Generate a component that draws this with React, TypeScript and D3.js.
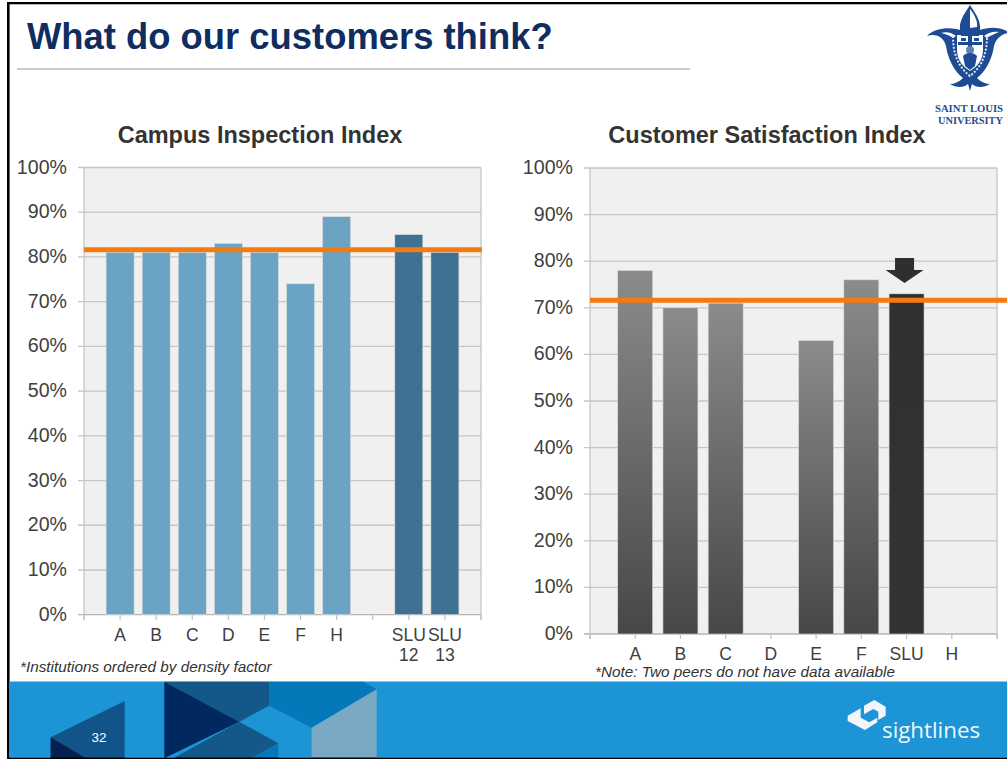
import React from "react";
import * as d3 from "d3";

const leftCategories = ["", "A", "B", "C", "D", "E", "F", "H", " ", "SLU 12", "SLU 13", "  "];
const leftValues = [null, 81, 81, 81, 83, 81, 74, 89, null, 85, 81, null];
const leftAverage = 81.6;
const rightCategories = ["", "A", "B", "C", "D", "E", "F", "SLU", "H", " "];
const rightValues = [null, 78, 70, 71, null, 63, 76, 73, null, null];
const rightAverage = 71.6;
const yTicks = [0, 10, 20, 30, 40, 50, 60, 70, 80, 90, 100];

const SANS = "'Liberation Sans', Arial, sans-serif";

type PanelProps = {
  title: string; titleX: number; cats: string[]; vals: (number | null)[]; avg: number;
  x0: number; x1: number; yTop: number; yBot: number; barW: number; labelX: number;
  fillFor: (c: string) => string; arrowAt?: string; lineX1: number;
};

function Panel({ title, titleX, cats, vals, avg, x0, x1, yTop, yBot, barW, labelX, fillFor, arrowAt, lineX1 }: PanelProps) {
  const x = d3.scalePoint<string>().domain(cats).range([x0, x1]);
  const y = d3.scaleLinear().domain([0, 100]).range([yBot, yTop]);
  return (
    <g fontFamily={SANS}>
      <text x={titleX} y={143} textAnchor="middle" fontSize={23.5} fontWeight={700} fill="#333">{title}</text>
      <rect x={x0} y={yTop} width={x1 - x0} height={yBot - yTop} fill="#f0f0f0" />
      {yTicks.map((t) => (
        <line key={t} x1={x0 - 6} x2={x1} y1={y(t)} y2={y(t)} stroke={t === 0 ? "#b4b4b4" : "#c6c6c6"} strokeWidth={1.3} />
      ))}
      <line x1={x0} x2={x0} y1={yTop} y2={yBot + 5} stroke="#c6c6c6" strokeWidth={1.3} />
      <line x1={x1} x2={x1} y1={yTop} y2={yBot + 5} stroke="#c6c6c6" strokeWidth={1.3} />
      {cats.map((c) => (
        <line key={"t" + c} x1={x(c)} x2={x(c)} y1={yBot} y2={yBot + 5} stroke="#c0c0c0" strokeWidth={1.2} />
      ))}
      {cats.map((c, i) => {
        const v = vals[i];
        if (v == null) return null;
        return (
          <rect key={"b" + c} x={x(c)! - barW / 2} y={y(v)} width={barW} height={yBot - y(v)} fill={fillFor(c)} stroke="#dcdcdc" strokeWidth={0.6} />
        );
      })}
      <line x1={x0} x2={lineX1} y1={y(avg)} y2={y(avg)} stroke="#f47b12" strokeWidth={5} />
      {yTicks.map((t) => (
        <text key={"l" + t} x={labelX} y={y(t) + 6} textAnchor="end" fontSize={19.6} fill="#404040">{t}%</text>
      ))}
      {cats.filter((c) => c.trim()).map((c) => {
        const lines = c.split(" ");
        return (
          <text key={"c" + c} x={x(c)} y={yBot + 26} textAnchor="middle" fontSize={17.5} fill="#404040">
            {lines.map((s, k) => <tspan key={k} x={x(c)} dy={k ? 20 : 0}>{s}</tspan>)}
          </text>
        );
      })}
      {arrowAt && (() => {
        const cx = x(arrowAt)! - 2;
        return <path d={`M${cx - 9.5},258H${cx + 9.5}V270H${cx + 19}L${cx},283L${cx - 19},270H${cx - 9.5}Z`} fill="#2f2f2f" />;
      })()}
    </g>
  );
}

function Logo() {
  const navy = "#1d4b94";
  const serif = { fontFamily: "'Liberation Serif', serif", fontWeight: 700, fontSize: 11, fill: navy } as const;
  return (
    <g>
      <path fill={navy} d="M970,5 C975,13 981,20 980,30 C988,27 1000,26 1010,33 C1003,33 996,38 994,46 C992,60 985,72 977,78 C981,82 986,84 990,84 C984,88 976,88 972,84 L970,91 L968,84 C964,88 956,88 950,84 C954,84 959,82 963,78 C955,72 948,60 946,46 C944,38 937,33 927,36 C935,27 952,27 960,30 C959,20 965,13 970,5 Z" />
      <path fill="#fff" d="M970,9 C974,14 978,21 977,27 L970,28 Z" />
      <path fill="#fff" d="M941,33 C947,31 952,33 956,36 L953,38 C949,35 945,34 941,33 Z M999,32 C993,31 988,33 984,36 L987,38 C991,35 995,34 999,32 Z" />
      <path fill="none" stroke="#dfe8f4" strokeWidth={2} strokeDasharray="2 1.6" d="M953,36 C953,52 957,66 970,76 C983,66 987,52 987,36" />
      <path fill="#fff" d="M957,35 H983 V50 C983,60 977,67 970,71 C963,67 957,60 957,50 Z" />
      <path fill={navy} d="M960,30 L963,33 L967,30 L970,33 L973,30 L977,33 L980,30 L979,36 H961 Z" />
      <path fill={navy} d="M968,36 H972 V42 H982 V45 H972 V52 H968 V45 H958 V42 H968 Z" />
      <path fill={navy} d="M961,38 h5 v3 h-5 Z M974,38 h5 v3 h-5 Z" />
      <circle cx={970} cy={50} r={4} fill="#5f7fb5" />
      <path fill={navy} d="M963,56 C966,52 974,52 977,56 L975,66 L970,70 L965,66 Z" />
      <text x={935} y={112} textLength={68} lengthAdjust="spacingAndGlyphs" {...serif}>SAINT LOUIS</text>
      <text x={938} y={124} textLength={65} lengthAdjust="spacingAndGlyphs" {...serif}>UNIVERSITY</text>
    </g>
  );
}

function Footer() {
  const pts = (a: number[][]) => a.map(([px, py]) => `${px / 3},${py / 3 + 590}`).join(" ");
  const ico = (a: number[][]) => a.map(([px, py]) => `${840 + px / 3},${695 + py / 3}`).join(" ");
  return (
    <g>
      <rect x={9} y={681.5} width={998} height={76} fill="#1c94d6" />
      <polygon points={pts([[152, 442], [374, 333], [374, 505], [152, 505]])} fill="#11548a" />
      <polygon points={pts([[152, 442], [258, 505], [152, 505]])} fill="#06204f" />
      <polygon points={pts([[493, 275], [808, 275], [808, 347], [718, 395]])} fill="#14588a" />
      <polygon points={pts([[493, 275], [718, 395], [493, 505]])} fill="#02295f" />
      <polygon points={pts([[808, 275], [1090, 275], [1130, 298], [935, 413], [808, 347]])} fill="#0478b8" />
      <polygon points={pts([[1130, 298], [935, 413], [935, 505], [1130, 505]])} fill="#7aa9c4" />
      <polygon points={pts([[718, 395], [835, 460], [755, 505], [520, 505]])} fill="#14588a" />
      <polygon points={pts([[835, 460], [835, 505], [755, 505]])} fill="#0478b8" />
      <text x={99} y={742} textAnchor="middle" fontFamily={SANS} fontSize={13.5} fill="#fff">32</text>
      <g fill="#f1f6fa">
        <polygon points={ico([[72, 32], [103, 15], [137, 35], [137, 62], [115, 75], [115, 50], [100, 42], [72, 58]])} />
        <polygon points={ico([[23, 62], [62, 40], [62, 68], [88, 82], [112, 68], [112, 82], [75, 105], [23, 78]])} />
      </g>
      <text x={882} y={738} fontFamily="'Open Sans', sans-serif" fontSize={22.3} fill="#f1f6fa">sightlines</text>
    </g>
  );
}

export default function App() {
  return (
    <svg width={1007} height={759} style={{ position: "absolute", left: 0, top: 0, display: "block" }}>
      <rect width={1007} height={759} fill="#fff" />
      <rect x={7} y={2} width={1000} height={2.3} fill="#000" />
      <rect x={7} y={2} width={2.6} height={757} fill="#000" />
      <text x={27} y={48.5} fontFamily={SANS} fontWeight={700} fontSize={36.4} fill="#0f2d5f">What do our customers think?</text>
      <line x1={17} x2={690} y1={69} y2={69} stroke="#c9c9c9" strokeWidth={2} />
      <Logo />
      <defs>
        <linearGradient id="grayBar" x1="0" y1="0" x2="0" y2="1">
          <stop offset="0" stopColor="#8b8b8b" />
          <stop offset="1" stopColor="#474747" />
        </linearGradient>
        <linearGradient id="darkBar" x1="0" y1="0" x2="0" y2="1">
          <stop offset="0" stopColor="#303030" />
          <stop offset="1" stopColor="#333333" />
        </linearGradient>
      </defs>
      <Panel title="Campus Inspection Index" titleX={260} cats={leftCategories} vals={leftValues} avg={leftAverage}
        x0={84} x1={481} yTop={167.5} yBot={614.7} barW={28} labelX={67} lineX1={482}
        fillFor={(c) => (c.startsWith("SLU") ? "#3e7192" : "#6ba3c5")} />
      <Panel title="Customer Satisfaction Index" titleX={767} cats={rightCategories} vals={rightValues} avg={rightAverage}
        x0={590} x1={997} yTop={168} yBot={634} barW={35} labelX={573} lineX1={1007} arrowAt="SLU"
        fillFor={(c) => (c === "SLU" ? "url(#darkBar)" : "url(#grayBar)")} />
      <text x={20} y={672} fontFamily={SANS} fontStyle="italic" fontSize={15.3} fill="#333">*Institutions ordered by density factor</text>
      <text x={595} y={677} fontFamily={SANS} fontStyle="italic" fontSize={15.3} fill="#333">*Note: Two peers do not have data available</text>
      <Footer />
      <rect x={7} y={757.5} width={1000} height={1.5} fill="#000" />
    </svg>
  );
}
